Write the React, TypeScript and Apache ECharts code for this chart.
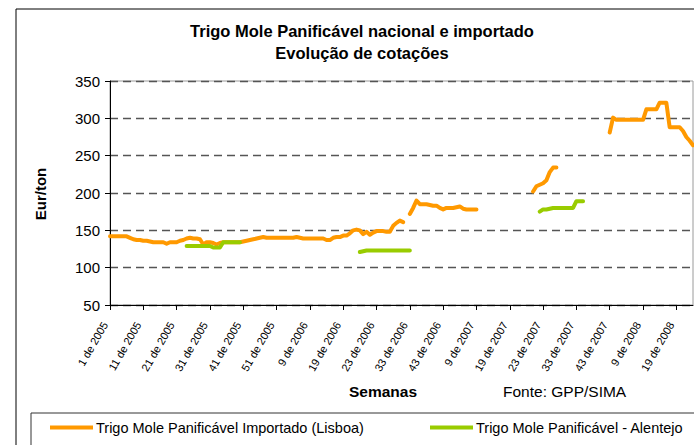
import React, { useEffect, useRef } from "react";
import * as echarts from "echarts";

const titleLines = ["Trigo Mole Panificável nacional e importado", "Evolução de cotações"];
const yAxisTitle = "Eur/ton";
const xAxisTitle = "Semanas";
const sourceNote = "Fonte: GPP/SIMA";
const seriesNames = ["Trigo Mole Panificável Importado (Lisboa)", "Trigo Mole Panificável - Alentejo"];

// one label every 10 weeks
const tickLabels = [
  "1 de 2005", "11 de 2005", "21 de 2005", "31 de 2005", "41 de 2005", "51 de 2005",
  "9 de 2006", "19 de 2006", "23 de 2006", "33 de 2006", "43 de 2006",
  "9 de 2007", "19 de 2007", "23 de 2007", "33 de 2007", "43 de 2007",
  "9 de 2008", "19 de 2008",
];

const yTicks = [50, 100, 150, 200, 250, 300, 350];

// weekly quotations (€/t), null = no quotation
const importedLisboa = [
  142, 142, 142, 142, 142, 142, 140, 138, 137, 137,
  136, 136, 135, 134, 134, 134, 134, 132, 134, 134,
  134, 136, 137, 139, 140, 139, 139, 138, 131, 134,
  134, 133, 131, 133, 134, 134, 134, 134, 134, 134,
  135, 136, 137, 138, 139, 140, 141, 140, 140, 140,
  140, 140, 140, 140, 140, 140, 141, 140, 139, 139,
  139, 139, 139, 139, 139, 137, 137, 140, 141, 141,
  143, 143, 146, 150, 151, 150, 145, 148, 144, 147,
  149, 149, 149, 148, 148, 156, 160, 163, 161, null,
  172, 180, 190, 185, 185, 185, 184, 183, 183, 180,
  178, 180, 180, 180, 181, 182, 179, 178, 178, 178,
  178, null, null, null, null, null, null, null, null, null,
  null, null, null, null, null, null, null, 202, 209, 211,
  213, 217, 228, 234, 234, null, null, null, null, null,
  null, null, null, null, null, null, null, null, null, null,
  281, 301, 298, 298, 298, 298, 298, 298, 298, 298,
  298, 312, 312, 312, 312, 321, 321, 321, 288, 288,
  288, 288, 283, 275, 270, 264,
];

const alentejo = [
  null, null, null, null, null, null, null, null, null, null,
  null, null, null, null, null, null, null, null, null, null,
  null, null, null, 129, 129, 129, 129, 129, 129, 129,
  129, 127, 127, 127, 134, 134, 134, 134, 134, 134,
  null, null, null, null, null, null, null, null, null, null,
  null, null, null, null, null, null, null, null, null, null,
  null, null, null, null, null, null, null, null, null, null,
  null, null, null, null, null, 121, 122, 123, 123, 123,
  123, 123, 123, 123, 123, 123, 123, 123, 123, 123,
  123, null, null, null, null, null, null, null, null, null,
  null, null, null, null, null, null, null, null, null, null,
  null, null, null, null, null, null, null, null, null, null,
  null, null, null, null, null, null, null, null, null, 175,
  178, 178, 179, 180, 180, 180, 180, 180, 180, 180,
  189, 189, 189, null, null, null, null, null, null, null,
  null, null, null, null, null, null, null, null, null, null,
  null, null, null, null, null, null, null, null, null, null,
  null, null, null, null, null, null,
];

const weekIndex = importedLisboa.map((_, i) => String(i));

const FONT = "'Liberation Sans', Arial, sans-serif";
const ORANGE = "#FF9900";
const GREEN = "#99CC00";

export default function App() {
  const ref = useRef<HTMLDivElement>(null);
  useEffect(() => {
    if (!ref.current) return;
    const chart = echarts.init(ref.current, undefined, { renderer: "svg" });
    const legendBase = {
      top: 420,
      icon: "rect",
      itemWidth: 43,
      itemHeight: 4,
      itemGap: 0,
      padding: 0,
      textStyle: { fontFamily: FONT, fontSize: 14.5, color: "#000", padding: [0, 0, 0, -2] },
    };
    chart.setOption({
      animation: false,
      backgroundColor: "#ffffff",
      textStyle: { fontFamily: FONT, color: "#000" },
      grid: {
        left: 110,
        top: 81,
        right: 1,
        bottom: 140,
        show: true,
        borderColor: "#9a9a9a",
        borderWidth: 1,
      },
      legend: [
        { ...legendBase, data: [seriesNames[0]], left: 50 },
        { ...legendBase, data: [seriesNames[1]], left: 430 },
      ],
      xAxis: {
        type: "category",
        data: weekIndex,
        boundaryGap: false,
        axisLine: { lineStyle: { color: "#000", width: 1 } },
        axisTick: {
          show: true,
          length: 5,
          interval: (i: number) => i % 10 === 0,
          lineStyle: { color: "#000" },
        },
        axisLabel: {
          interval: (i: number) => i % 10 === 0,
          rotate: 60,
          margin: 9,
          padding: [0, 10, 0, 0],
          fontSize: 11,
          fontFamily: FONT,
          color: "#000",
          formatter: (_v: string, i: number) => (i % 10 === 0 ? tickLabels[i / 10] ?? "" : ""),
        },
        splitLine: { show: false },
      },
      yAxis: {
        type: "value",
        min: yTicks[0],
        max: yTicks[yTicks.length - 1],
        interval: 50,
        axisLine: { show: true, lineStyle: { color: "#000", width: 1 } },
        axisTick: { show: true, length: 5, lineStyle: { color: "#000" } },
        axisLabel: { fontSize: 15, fontFamily: FONT, color: "#000", margin: 10 },
        splitLine: {
          show: true,
          lineStyle: { color: "#555", width: 1.3, type: [8, 5] },
        },
      },
      series: [
        {
          name: seriesNames[0],
          type: "line",
          data: importedLisboa,
          symbol: "none",
          connectNulls: false,
          lineStyle: { color: ORANGE, width: 4, cap: "round", join: "round" },
          itemStyle: { color: ORANGE },
          z: 3,
        },
        {
          name: seriesNames[1],
          type: "line",
          data: alentejo,
          symbol: "none",
          connectNulls: false,
          lineStyle: { color: GREEN, width: 4, cap: "round", join: "round" },
          itemStyle: { color: GREEN },
          z: 4,
        },
      ],
      graphic: [
        {
          type: "rect",
          z: -10,
          shape: { x: 16, y: 9, width: 720, height: 480 },
          style: { fill: "none", stroke: "#000", lineWidth: 1 },
          silent: true,
        },
        {
          type: "rect",
          z: -10,
          shape: { x: 31, y: 413, width: 720, height: 100 },
          style: { fill: "none", stroke: "#333", lineWidth: 1 },
          silent: true,
        },
        {
          type: "text",
          x: 362,
          y: 31,
          style: {
            text: titleLines[0],
            font: `bold 16.5px ${FONT}`,
            fill: "#000",
            textAlign: "center",
            textVerticalAlign: "middle",
          },
        },
        {
          type: "text",
          x: 362,
          y: 53,
          style: {
            text: titleLines[1],
            font: `bold 16.5px ${FONT}`,
            fill: "#000",
            textAlign: "center",
            textVerticalAlign: "middle",
          },
        },
        {
          type: "text",
          x: 40,
          y: 194,
          rotation: Math.PI / 2,
          style: {
            text: yAxisTitle,
            font: `bold 15px ${FONT}`,
            fill: "#000",
            textAlign: "center",
            textVerticalAlign: "middle",
          },
        },
        {
          type: "text",
          x: 383,
          y: 391,
          style: {
            text: xAxisTitle,
            font: `bold 15.5px ${FONT}`,
            fill: "#000",
            textAlign: "center",
            textVerticalAlign: "middle",
          },
        },
        {
          type: "text",
          x: 503,
          y: 391,
          style: {
            text: sourceNote,
            font: `15.5px ${FONT}`,
            fill: "#000",
            textAlign: "left",
            textVerticalAlign: "middle",
          },
        },
      ],
    });
    return () => chart.dispose();
  }, []);
  return (
    <div
      ref={ref}
      style={{ position: "absolute", left: 0, top: 0, width: 694, height: 445, background: "#fff" }}
    />
  );
}
